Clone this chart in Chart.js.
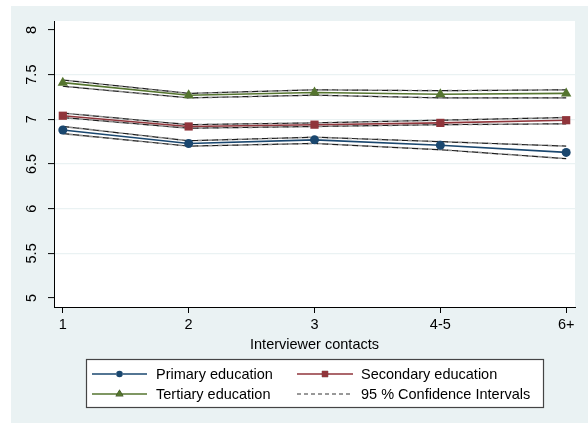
<!DOCTYPE html>
<html>
<head>
<meta charset="utf-8">
<script src="https://cdn.jsdelivr.net/npm/chart.js@4/dist/chart.umd.min.js"></script>
<style>
  html, body { margin: 0; padding: 0; background: #ffffff; }
  #wrap { width: 588px; height: 423px; position: relative; }
</style>
</head>
<body>
<div id="wrap"><canvas id="c" width="588" height="423"></canvas></div>
<script>
// ---- data ----
const categories = ['1', '2', '3', '4-5', '6+'];
const yTickValues = [5, 5.5, 6, 6.5, 7, 7.5, 8];
const yTickLabels = ['5', '5.5', '6', '6.5', '7', '7.5', '8'];

const primary      = [6.88, 6.73, 6.77, 6.71, 6.63];
const primaryLo    = [6.84, 6.70, 6.73, 6.66, 6.56];
const primaryHi    = [6.92, 6.76, 6.80, 6.75, 6.70];

const secondary    = [7.04, 6.92, 6.94, 6.96, 6.99];
const secondaryLo  = [7.02, 6.90, 6.92, 6.94, 6.95];
const secondaryHi  = [7.07, 6.94, 6.96, 6.99, 7.02];

const tertiary     = [7.41, 7.27, 7.30, 7.28, 7.29];
const tertiaryLo   = [7.37, 7.24, 7.27, 7.24, 7.24];
const tertiaryHi   = [7.44, 7.29, 7.33, 7.32, 7.33];

const seriesNames = ['Primary education', 'Secondary education', 'Tertiary education', '95 % Confidence Intervals'];
const xAxisTitle = 'Interviewer contacts';

// ---- styles ----
const NAVY = '#1A476F', MAROON = '#90353B', GREEN = '#55752F';
const BG = '#EAF2F3';
const FONT = "'Liberation Sans', Arial, Helvetica, sans-serif";
const FS = 14.5;

const toXY = arr => arr.map((v, i) => ({ x: i + 1, y: v }));

function mainDs(label, arr, color, style, radius) {
  return {
    label, data: toXY(arr), borderColor: color, backgroundColor: color,
    borderWidth: 1.6, pointStyle: style, pointRadius: radius, pointHoverRadius: radius,
    pointBorderWidth: 0, tension: 0, order: 0
  };
}
function ciDs(arr) {
  return {
    label: '_ci', data: toXY(arr), borderColor: '#1e1e1e', borderWidth: 1.2,
    borderDash: [6, 4], pointRadius: 0, pointHoverRadius: 0, tension: 0, order: 1, fill: false
  };
}
function ciShadeDs(arr) {
  return {
    label: '_ci2', data: toXY(arr), borderColor: '#8c8c8c', borderWidth: 1.6,
    borderDash: [5, 5], borderDashOffset: 5, pointRadius: 0, pointHoverRadius: 0,
    tension: 0, order: 2, fill: false
  };
}

const datasets = [
  mainDs(seriesNames[0], primary, NAVY, 'circle', 4.5),
  mainDs(seriesNames[1], secondary, MAROON, 'rect', 5.8),
  mainDs(seriesNames[2], tertiary, GREEN, 'triangle', 6),
  ciDs(primaryLo), ciDs(primaryHi),
  ciDs(secondaryLo), ciDs(secondaryHi),
  ciDs(tertiaryLo), ciDs(tertiaryHi),
  ciShadeDs(primaryLo), ciShadeDs(primaryHi),
  ciShadeDs(secondaryLo), ciShadeDs(secondaryHi),
  ciShadeDs(tertiaryLo), ciShadeDs(tertiaryHi)
];

const bgPlugin = {
  id: 'bgPlugin',
  beforeDraw(chart) {
    const ctx = chart.ctx, a = chart.chartArea;
    ctx.save();
    ctx.fillStyle = '#ffffff';
    ctx.fillRect(0, 0, chart.width, chart.height);
    ctx.fillStyle = BG;
    ctx.fillRect(11, 6, chart.width - 11, chart.height - 6);
    ctx.fillStyle = '#ffffff';
    ctx.fillRect(a.left, a.top, a.right - a.left, a.bottom - a.top);
    ctx.restore();
  }
};

const yLabelPlugin = {
  id: 'yLabelPlugin',
  afterDraw(chart) {
    const ctx = chart.ctx, ys = chart.scales.y;
    ctx.save();
    ctx.fillStyle = '#000';
    ctx.font = FS + 'px ' + FONT;
    ctx.textAlign = 'center';
    ctx.textBaseline = 'middle';
    yTickValues.forEach((v, i) => {
      const py = ys.getPixelForValue(v);
      ctx.save();
      ctx.translate(ys.left - 16, py);
      ctx.rotate(-Math.PI / 2);
      ctx.fillText(yTickLabels[i], 0, 0);
      ctx.restore();
    });
    ctx.restore();
  }
};

const legendPlugin = {
  id: 'legendPlugin',
  afterDraw(chart) {
    const ctx = chart.ctx;
    const box = { x: 86.5, y: 359.5, w: 457, h: 48 };
    ctx.save();
    ctx.fillStyle = '#ffffff';
    ctx.fillRect(box.x, box.y, box.w, box.h);
    ctx.strokeStyle = '#444';
    ctx.lineWidth = 1.2;
    ctx.strokeRect(box.x, box.y, box.w, box.h);
    const rows = [374, 394];
    const cols = [{ l: 92, r: 147, t: 156 }, { l: 297, r: 353, t: 361 }];
    const items = [
      { ds: chart.data.datasets[0], col: 0, row: 0, name: seriesNames[0] },
      { ds: chart.data.datasets[1], col: 1, row: 0, name: seriesNames[1] },
      { ds: chart.data.datasets[2], col: 0, row: 1, name: seriesNames[2] },
      { ds: chart.data.datasets[3], col: 1, row: 1, name: seriesNames[3], ci: true }
    ];
    items.forEach(it => {
      const c = cols[it.col], y = rows[it.row];
      ctx.save();
      ctx.strokeStyle = it.ci ? '#333' : it.ds.borderColor;
      ctx.lineWidth = it.ci ? 1 : 1.5;
      if (it.ci) ctx.setLineDash([4, 3]);
      ctx.beginPath();
      ctx.moveTo(c.l, y);
      ctx.lineTo(c.r, y);
      ctx.stroke();
      ctx.restore();
      if (!it.ci) {
        Chart.helpers.drawPoint(ctx, {
          pointStyle: it.ds.pointStyle,
          radius: it.ds.pointStyle === 'circle' ? 3.3 : (it.ds.pointStyle === 'rect' ? 4.4 : 4.6),
          borderWidth: 0, rotation: 0
        }, (c.l + c.r) / 2, y);
        ctx.fillStyle = it.ds.backgroundColor;
        ctx.fill();
      }
      ctx.fillStyle = '#000';
      ctx.font = FS + 'px ' + FONT;
      ctx.textAlign = 'left';
      ctx.textBaseline = 'middle';
      ctx.fillText(it.name, c.t, y + 0.5);
    });
    ctx.restore();
  }
};

new Chart(document.getElementById('c'), {
  type: 'line',
  data: { datasets },
  options: {
    responsive: false,
    animation: false,
    devicePixelRatio: 1,
    layout: { padding: { left: 48, top: 21, right: 13, bottom: 71 } },
    plugins: { legend: { display: false }, tooltip: { enabled: false } },
    scales: {
      x: {
        type: 'linear', min: 0.93, max: 5.07,
        afterBuildTicks: s => { s.ticks = categories.map((c, i) => ({ value: i + 1 })); },
        ticks: {
          callback: v => categories[v - 1],
          color: '#000', padding: 5, autoSkip: false, maxRotation: 0,
          font: { family: FONT, size: FS, lineHeight: 1 }
        },
        grid: { drawOnChartArea: false, drawTicks: true, tickLength: 6, tickColor: '#000', tickWidth: 1 },
        border: { display: true, color: '#000', width: 1 },
        title: {
          display: true, text: xAxisTitle, color: '#000', padding: { top: 0, bottom: 0 },
          font: { family: FONT, size: FS, lineHeight: 1 }
        }
      },
      y: {
        type: 'linear', min: 4.9, max: 8.1,
        afterBuildTicks: s => { s.ticks = yTickValues.map(v => ({ value: v })); },
        ticks: { display: false },
        grid: {
          color: ctx => (ctx.tick && ctx.tick.value > 5.2 && ctx.tick.value < 7.8) ? BG : 'rgba(0,0,0,0)',
          lineWidth: 1.2,
          drawTicks: true, tickLength: 6, tickColor: '#000', tickWidth: 1
        },
        border: { display: true, color: '#000', width: 1 }
      }
    }
  },
  plugins: [bgPlugin, yLabelPlugin, legendPlugin]
});
</script>
</body>
</html>
